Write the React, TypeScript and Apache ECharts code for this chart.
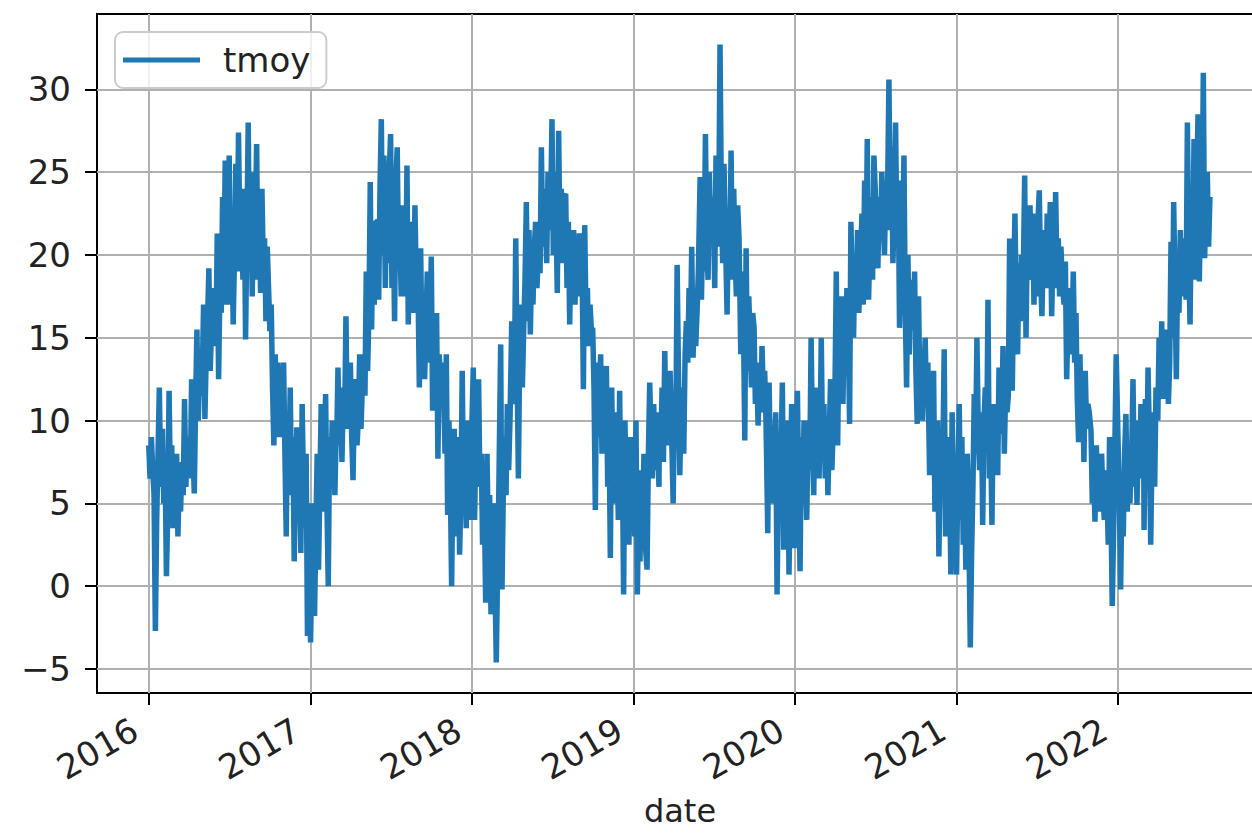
import React, { useEffect, useRef } from "react";
import * as echarts from "echarts";

// daily mean temperature "tmoy", every 3 days (10 readings per month)
const sampleDays = [1, 4, 7, 10, 13, 16, 19, 22, 25, 28];

const t2016 = [
  8.5, 6.5, 9.0, 7.0, 5.5, -2.7, 4.0, 8.0, 12.0, 6.0,
  9.5, 5.0, 7.5, 0.6, 4.5, 11.8, 6.0, 8.5, 3.5, 7.0,
  5.0, 8.0, 3.0, 6.5, 4.5, 7.5, 5.5, 11.3, 6.0, 8.5,
  9.0, 6.5, 12.5, 8.0, 5.6, 11.0, 15.5, 10.0, 13.0, 11.5,
  12.5, 17.0, 10.1, 14.0, 16.0, 19.2, 13.0, 15.5, 18.0, 14.5,
  15.0, 21.3, 12.5, 18.0, 16.5, 23.5, 19.0, 25.7, 17.0, 21.0,
  26.0, 17.0, 22.0, 15.8, 20.0, 25.5, 19.0, 27.4, 21.0, 23.0,
  18.5, 24.0, 14.9, 21.5, 28.0, 19.0, 25.0, 17.5, 22.5, 20.0,
  26.7, 18.5, 22.0, 17.7, 24.0, 19.5, 21.0, 16.0, 20.5, 18.0,
  15.4, 17.0, 12.0, 8.5, 14.0, 11.0, 13.5, 9.0, 12.5, 10.5,
  13.5, 8.0, 3.0, 10.5, 7.0, 12.0, 5.5, 9.0, 1.5, 6.5,
  9.6, 4.0, 7.5, 2.0, 11.0, 6.0, 3.5, 8.0, -3.0, 5.0,
];

const t2017 = [
  -3.4, 2.0, 5.0, -1.8, 3.5, 8.0, 1.0, 6.0, 11.0, 4.5,
  7.5, 11.6, 5.0, 0.0, 9.0, 6.5, 10.0, 8.0, 5.5, 9.5,
  8.5, 13.2, 9.0, 11.0, 7.5, 12.0, 10.0, 16.3, 9.5, 11.5,
  13.5, 9.0, 6.4, 11.0, 12.5, 8.5, 10.0, 14.0, 9.5, 12.0,
  14.0, 11.5, 19.0, 13.0, 16.5, 24.4, 15.5, 21.0, 17.0, 22.0,
  22.0, 17.3, 24.0, 28.2, 20.0, 26.0, 18.0, 23.5, 19.5, 25.0,
  27.3, 18.0, 22.0, 16.0, 24.5, 26.5, 19.5, 21.0, 17.5, 23.0,
  21.0, 17.5, 25.4, 15.8, 22.0, 19.0, 20.5, 16.5, 23.0, 18.5,
  18.0, 12.0, 20.4, 14.0, 17.0, 12.5, 16.0, 19.0, 13.5, 15.0,
  19.9, 10.6, 15.0, 13.0, 16.5, 7.7, 14.0, 12.0, 11.0, 13.5,
  8.0, 14.0, 4.3, 10.0, 6.5, 0.0, 7.0, 9.5, 3.0, 6.0,
  9.0, 1.9, 5.5, 13.0, 5.0, 8.0, 3.5, 10.0, 6.5, 4.0,
];

const t2018 = [
  10.0, 13.2, 4.0, 9.0, 6.5, 12.5, 6.0, 8.0, 2.5, 7.0,
  -1.0, 8.0, 3.0, 5.5, -1.7, 2.0, 5.0, 0.5, -4.6, 1.0,
  2.0, 8.5, 14.6, -0.2, 6.0, 9.0, 5.5, 11.0, 7.0, 10.0,
  16.0, 11.0, 12.5, 21.0, 13.5, 6.5, 14.5, 17.0, 12.0, 15.5,
  18.5, 23.2, 16.0, 21.5, 15.2, 19.5, 17.0, 20.5, 22.0, 18.0,
  21.0, 18.9, 26.5, 20.5, 24.0, 22.0, 19.5, 25.0, 21.5, 23.0,
  28.2, 20.0, 25.0, 22.5, 17.7, 27.5, 21.0, 24.0, 19.5, 23.5,
  23.7, 18.0, 22.0, 15.8, 20.5, 19.0, 21.5, 17.0, 20.0, 18.5,
  21.3, 17.5, 19.5, 11.9, 21.8, 16.0, 18.0, 14.5, 17.0, 15.5,
  15.6, 12.0, 4.6, 13.5, 9.0, 11.0, 14.0, 8.0, 12.5, 10.0,
  13.3, 6.0, 9.5, 1.7, 12.0, 7.0, 10.5, 5.0, 8.5, 4.0,
  11.8, 4.0, 8.0, -0.5, 10.0, 5.5, 7.0, 2.5, 9.0, 6.0,
];

const t2019 = [
  9.0, 3.0, 10.0, -0.5, 5.0, 1.5, 7.0, 4.0, 8.0, 2.5,
  1.0, 8.0, 12.3, 9.0, 6.5, 11.0, 7.0, 10.5, 8.5, 6.0,
  10.5, 8.0, 12.0, 7.5, 14.2, 9.0, 11.5, 8.5, 13.0, 10.0,
  5.0, 11.0, 9.0, 19.4, 13.0, 6.7, 10.5, 12.0, 8.0, 14.0,
  16.0, 13.5, 18.0, 15.0, 20.5, 13.8, 17.0, 14.5, 16.5, 19.0,
  24.7, 17.3, 22.0, 19.0, 27.3, 20.5, 18.5, 25.0, 21.0, 23.5,
  23.0, 18.0, 26.0, 20.5, 22.0, 32.7, 23.5, 19.5, 25.5, 21.5,
  16.4, 22.0, 19.0, 26.3, 18.5, 24.0, 20.0, 17.5, 23.0, 21.0,
  14.0, 19.0, 16.0, 8.8, 20.4, 13.0, 17.5, 15.0, 12.0, 16.5,
  15.6, 11.0, 13.5, 9.7, 12.0, 10.5, 14.5, 11.5, 13.0, 10.0,
  3.2, 12.3, 7.0, 9.5, 5.0, 8.0, 10.5, -0.5, 6.0, 8.5,
  8.0, 12.3, 2.2, 9.0, 5.5, 10.0, 0.7, 6.0, 11.0, 4.5,
];

const t2020 = [
  2.3, 8.0, 11.8, 5.5, 0.9, 9.0, 5.0, 10.0, 7.0, 4.0,
  10.0, 7.0, 15.0, 9.0, 5.5, 12.0, 8.0, 11.0, 6.5, 10.5,
  15.0, 8.0, 11.0, 6.5, 10.0, 5.5, 9.0, 12.5, 7.0, 9.5,
  12.0, 19.0, 8.5, 15.0, 13.0, 17.5, 11.0, 16.0, 14.0, 18.0,
  16.0, 9.8, 22.0, 18.0, 15.0, 20.0, 17.0, 21.5, 16.5, 19.0,
  22.5, 17.0, 24.5, 19.0, 27.0, 17.3, 21.0, 23.5, 18.5, 26.0,
  24.0, 20.5, 19.2, 23.5, 21.0, 25.0, 22.0, 20.0, 24.5, 21.5,
  30.6, 22.0, 26.5, 19.5, 23.0, 28.0, 21.0, 24.5, 15.6, 20.0,
  21.0, 26.0, 16.5, 12.0, 20.0, 14.0, 18.5, 17.0, 15.5, 19.0,
  13.0, 9.8, 17.5, 11.5, 14.0, 10.0, 12.5, 15.0, 11.0, 13.5,
  6.7, 11.0, 9.0, 13.0, 4.5, 8.0, 10.0, 1.8, 7.5, 9.5,
  8.0, 14.3, 3.0, 9.0, 5.5, 7.0, 0.7, 10.5, 4.0, 6.5,
];

const t2021 = [
  0.7, 7.0, 11.0, 4.0, 9.0, 2.5, 6.0, 1.0, 8.0, 5.0,
  -3.7, 2.0, 6.0, 11.6, 8.0, 15.0, 9.5, 7.0, 10.5, 6.5,
  3.7, 10.0, 12.0, 8.0, 17.3, 6.5, 9.0, 3.7, 11.0, 7.5,
  9.0, 6.7, 13.2, 10.0, 9.2, 14.5, 8.0, 12.0, 10.5, 11.5,
  21.0, 15.0, 11.8, 18.0, 22.5, 17.0, 14.0, 19.5, 16.0, 20.0,
  19.0, 24.8, 15.0, 21.0, 18.5, 23.0, 20.0, 22.5, 17.0, 21.5,
  17.5, 22.0, 23.9, 19.0, 16.3, 20.5, 21.5, 18.0, 22.5, 19.5,
  23.2, 16.3, 20.0, 18.0, 23.8, 19.0, 21.0, 17.5, 20.5, 18.5,
  17.0, 19.6, 12.5, 16.0, 14.0, 18.0, 15.5, 19.0, 13.5, 16.5,
  11.3, 8.7, 14.0, 10.0, 12.0, 7.5, 13.0, 9.5, 11.0, 10.5,
  9.4, 5.0, 7.0, 3.9, 8.5, 6.0, 7.5, 4.5, 8.0, 5.5,
  4.0, 7.0, 6.0, 2.5, 9.0, 5.0, -1.2, 3.0, 8.5, 14.0,
];

const t2022 = [
  9.0, 5.5, -0.2, 6.0, 3.0, 8.0, 10.4, 4.5, 7.0, 5.0,
  8.0, 12.5, 6.0, 10.0, 4.9, 9.0, 7.5, 11.0, 6.5, 9.5,
  3.4, 11.3, 7.0, 13.2, 9.0, 2.5, 8.0, 10.5, 6.0, 12.0,
  10.0, 15.0, 12.0, 16.0, 11.3, 14.5, 12.5, 15.5, 11.0, 13.5,
  20.8, 15.0, 23.2, 18.0, 12.5, 19.5, 16.5, 21.5, 17.5, 20.0,
  21.0, 17.3, 28.0, 20.0, 15.8, 22.5, 19.0, 27.0, 18.5, 24.0,
  28.5, 18.4, 24.0, 21.0, 31.0, 19.8, 23.0, 25.0, 20.5, 23.5,
];

const yearly: [number, number[]][] = [
  [2016, t2016],
  [2017, t2017],
  [2018, t2018],
  [2019, t2019],
  [2020, t2020],
  [2021, t2021],
  [2022, t2022],
];

const yTicks = [-5, 0, 5, 10, 15, 20, 25, 30];
const xTickYears = [2016, 2017, 2018, 2019, 2020, 2021, 2022];

function buildSeries(): [number, number][] {
  const out: [number, number][] = [];
  for (const [year, vals] of yearly) {
    vals.forEach((v, i) => {
      const m = Math.floor(i / sampleDays.length);
      const d = sampleDays[i % sampleDays.length];
      out.push([new Date(year, m, d).getTime(), v]);
    });
  }
  return out;
}

export default function App() {
  const ref = useRef<HTMLDivElement>(null);
  useEffect(() => {
    if (!ref.current) return;
    const chart = echarts.init(ref.current, null, { renderer: "svg" });
    const font = "DejaVu Sans";
    const txt = "#222222";
    const fs = 34;
    const xTickValues = xTickYears.map((y) => new Date(y, 0, 1).getTime());
    chart.setOption({
      animation: false,
      backgroundColor: "#ffffff",
      textStyle: { fontFamily: font },
      grid: {
        left: 97,
        top: 14,
        right: -11,
        bottom: 144,
        containLabel: false,
        outerBoundsMode: "none",
        show: true,
        borderColor: "#000000",
        borderWidth: 2,
        backgroundColor: "transparent",
      },
      legend: {
        left: 115,
        top: 32,
        orient: "vertical",
        padding: [11, 16, 11, 8],
        itemWidth: 77,
        itemHeight: 5,
        icon: "rect",
        backgroundColor: "rgba(255,255,255,0.8)",
        borderColor: "#cccccc",
        borderWidth: 2,
        borderRadius: 8,
        textStyle: {
          fontFamily: font,
          fontSize: fs,
          color: txt,
          padding: [0, 0, 0, 18],
        },
        data: ["tmoy"],
      },
      xAxis: {
        type: "value",
        min: new Date(2015, 8, 6).getTime(),
        max: new Date(2022, 10, 25).getTime(),
        name: "date",
        nameLocation: "middle",
        nameGap: 102,
        nameTextStyle: { fontFamily: font, fontSize: 32, color: txt },
        axisLine: { show: false, onZero: false },
        axisTick: {
          show: true,
          length: 12,
          lineStyle: { color: "#000000", width: 2 },
          customValues: xTickValues,
        },
        axisLabel: {
          show: true,
          rotate: 30,
          margin: 26,
          padding: [0, 16, 0, 0],
          fontFamily: font,
          fontSize: fs,
          color: txt,
          customValues: xTickValues,
          formatter: (v: number) => String(new Date(v).getFullYear()),
        },
        splitLine: { show: true, lineStyle: { color: "#b0b0b0", width: 2 } },
      },
      yAxis: {
        type: "value",
        min: -6.45,
        max: 34.55,
        axisLine: { show: false, onZero: false },
        axisTick: {
          show: true,
          length: 12,
          lineStyle: { color: "#000000", width: 2 },
          customValues: yTicks,
        },
        axisLabel: {
          show: true,
          margin: 26,
          fontFamily: font,
          fontSize: fs,
          color: txt,
          customValues: yTicks,
          formatter: (v: number) => (v < 0 ? "\u2212" + Math.abs(v) : String(v)),
        },
        splitLine: { show: true, lineStyle: { color: "#b0b0b0", width: 2 } },
      },
      series: [
        {
          name: "tmoy",
          type: "line",
          data: buildSeries(),
          showSymbol: false,
          symbol: "none",
          color: "#1f77b4",
          lineStyle: { color: "#1f77b4", width: 5.5 },
        },
      ],
    });
    return () => chart.dispose();
  }, []);
  return (
    <div
      ref={ref}
      style={{ position: "absolute", left: 0, top: 0, width: 1252, height: 837 }}
    />
  );
}
